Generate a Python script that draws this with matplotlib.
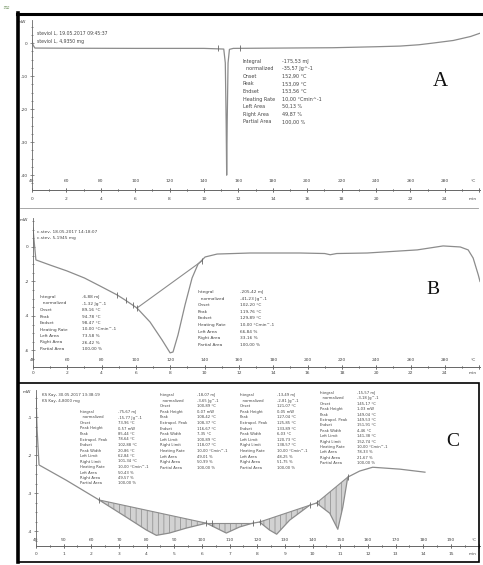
import numpy as np
import matplotlib
matplotlib.use("Agg")
import matplotlib.pyplot as plt
from matplotlib.lines import Line2D
from matplotlib.patches import Rectangle
from matplotlib.ticker import MultipleLocator, FuncFormatter

W, H = 483, 565
TXT = "#444444"
AX = "#666666"
CURVE = "#8c8c8c"

# ---- panel A: sharp melting peak ----
a_temp = [40, 40.6, 41.7, 60, 100, 140, 151.5, 152.4, 152.9, 153.2, 153.5, 154.0, 154.8,
          157, 200, 215, 240, 254, 265, 273, 285, 295, 300.5]
a_flow = [0.9, -0.6, -1.5, -1.55, -1.6, -1.6, -1.8, -6, -24, -40, -24, -6, -1.9,
          -1.6, -1.45, -1.4, -1.1, -0.9, -0.5, 0.0, 0.8, 2.0, 3.0]
a_mark_temp = [148.1, 160.9]
a_mark_flow = [-1.6, -1.5]
a_header = ["steviol L, 19.05.2017 09:45:37", "steviol L, 4,9350 mg"]
a_keys = ["Integral", "  normalized", "Onset", "Peak", "Endset", "Heating Rate",
          "Left Area", "Right Area", "Partial Area"]
a_vals = ["-175,53 mJ", "-35,57 Jg^-1", "152,90 °C", "153,09 °C", "153,56 °C",
          "10,00 °Cmin^-1", "50,13 %", "49,87 %", "100,00 %"]

# ---- panel B: broad dehydration endotherm ----
b_temp = [40, 40.6, 41.7, 50, 59.8, 70, 79, 89, 93.6, 100.6, 108.2, 115.2, 119.9, 121.6,
          124.5, 128.6, 132.7, 136.2, 140.3, 147.3, 166.5, 195.7, 210, 213.2, 217, 234.7,
          263.9, 279, 289, 293.6, 296.5, 299.5, 300.5]
b_flow = [1.1, 0.4, -0.75, -1.05, -1.39, -1.8, -2.26, -2.78, -3.07, -3.54, -4.35, -5.39,
          -6.14, -6.09, -5.1, -3.36, -1.80, -0.99, -0.58, -0.41, -0.35, -0.35, -0.38,
          -0.45, -0.38, -0.35, -0.17, 0.06, 0.0, -0.17, -0.64, -1.62, -2.0]
b_base_temp = [100.6, 138.6]
b_base_flow = [-3.54, -0.8]
b_mark_temp = [89, 94.2, 98.3, 100.6, 138.6]
b_mark_flow = [-2.78, -3.1, -3.35, -3.54, -0.8]
b_header = ["c.stev, 18.05.2017 14:18:07", "c.stev, 5,1945 mg"]
b_keys1 = a_keys
b_vals1 = ["-6,88 mJ", "-1,32 Jg^-1", "89,16 °C", "94,78 °C", "98,47 °C",
           "10,00 °Cmin^-1", "73,58 %", "26,42 %", "100,00 %"]
b_keys2 = ["Integral", "  normalized", "Onset", "Peak", "Endset", "Heating Rate",
           "Left Area", "Right Area", "Partial Area"]
b_vals2 = ["-205,42 mJ", "-41,23 Jg^-1", "102,20 °C", "119,76 °C", "129,89 °C",
           "10,00 °Cmin^-1", "66,84 %", "33,16 %", "100,00 %"]

# ---- panel C: four small endotherms ----
c_temp = [40, 40.4, 41.1, 50.9, 62.8, 72.6, 79.9, 83.5, 88.2, 94.3, 101.6, 105.2, 108.8,
          113.6, 118.3, 120.8, 124.4, 127.0, 131.7, 138.9, 141.4, 146.2, 149.1, 150.9,
          152.7, 157.0, 161.7, 171.5, 180.6]
c_flow = [-0.47, -1.34, -2.26, -2.66, -3.18, -3.63, -3.97, -4.11, -4.05, -3.92, -3.79,
          -3.92, -4.05, -3.89, -3.79, -3.76, -3.97, -4.08, -3.71, -3.32, -3.26, -3.53,
          -3.95, -3.37, -2.58, -2.42, -2.32, -2.37, -2.45]
c_limits = [(62.8, 101.6), (101.6, 118.3), (120.8, 138.9), (141.4, 152.7)]
c_mark_temp = [62.8, 101.6, 103.8, 118.3, 120.8, 138.9, 141.4, 152.7]
c_mark_flow = [-3.18, -3.79, -3.79, -3.79, -3.76, -3.32, -3.26, -2.58]
c_header = ["KS Kay, 30.05.2017 13:38:19", "KS Kay, 4,8000 mg"]
c_keys = ["Integral", "  normalized", "Onset", "Peak Height", "Peak", "Extrapol. Peak",
          "Endset", "Peak Width", "Left Limit", "Right Limit", "Heating Rate",
          "Left Area", "Right Area", "Partial Area"]
c_vals1 = ["-75,67 mJ", "-15,77 Jg^-1", "73,96 °C", "0,57 mW", "85,44 °C", "78,64 °C",
           "102,88 °C", "20,86 °C", "62,84 °C", "101,34 °C", "10,00 °Cmin^-1",
           "50,43 %", "49,57 %", "100,00 %"]
c_vals2 = ["-18,07 mJ", "-3,65 Jg^-1", "100,89 °C", "0,07 mW", "108,42 °C", "108,37 °C",
           "116,67 °C", "7,35 °C", "100,89 °C", "118,07 °C", "10,00 °Cmin^-1",
           "49,01 %", "50,99 %", "100,00 %"]
c_vals3 = ["-13,49 mJ", "-2,81 Jg^-1", "121,07 °C", "0,05 mW", "127,04 °C", "125,85 °C",
           "133,89 °C", "6,03 °C", "120,73 °C", "138,57 °C", "10,00 °Cmin^-1",
           "48,25 %", "51,75 %", "100,00 %"]
c_vals4 = ["-15,57 mJ", "-3,18 Jg^-1", "145,17 °C", "1,03 mW", "149,04 °C", "149,53 °C",
           "151,91 °C", "4,46 °C", "141,38 °C", "152,74 °C", "10,00 °Cmin^-1",
           "78,33 %", "21,67 %", "100,00 %"]

plt.rcParams["hatch.linewidth"] = 0.5
fig = plt.figure(figsize=(W / 100, H / 100), dpi=100)


def rect(x0, y0, x1, y1):
    return [x0 / W, 1 - y1 / H, (x1 - x0) / W, (y1 - y0) / H]


def put(x, y, s, size=3.3, **kw):
    kw.setdefault("ha", "left")
    fig.text(x / W, 1 - y / H, s, fontsize=size, color=TXT, va="center", **kw)


def block(x_key, x_val, y0, dy, keys, vals, size=3.0):
    for i, (k, v) in enumerate(zip(keys, vals)):
        put(x_key, y0 + i * dy, k, size)
        put(x_val, y0 + i * dy, v, size)


def dsc_axes(box, xlim, ylim, tstep, tminor, mstep, mminor, yticks, ylabels, yminor,
             tpad, mpad):
    ax = fig.add_axes(rect(*box))
    ax.set_xlim(xlim)
    ax.set_ylim(ylim)
    ax.patch.set_alpha(0)
    for s in ("top", "right"):
        ax.spines[s].set_visible(False)
    for s in ("left", "bottom"):
        ax.spines[s].set_color(AX)
        ax.spines[s].set_linewidth(0.6)
    ax.xaxis.set_major_locator(MultipleLocator(tstep))
    ax.xaxis.set_minor_locator(MultipleLocator(tminor))
    # the last tick carries the unit instead of a number (added as text below)
    ax.xaxis.set_major_formatter(FuncFormatter(
        lambda v, p: "" if (v > xlim[1] - tstep or v < xlim[0] - 0.01) else f"{v:.0f}"))
    ax.tick_params(axis="x", which="both", direction="inout", color=AX, width=0.5,
                   labelsize=3.2, labelcolor=TXT, pad=tpad)
    ax.tick_params(axis="x", which="major", length=3)
    ax.tick_params(axis="x", which="minor", length=1.6)

    ax.set_yticks(yticks, ylabels)
    ax.yaxis.set_minor_locator(MultipleLocator(yminor))
    ax.tick_params(axis="y", which="both", direction="inout", color=AX, width=0.5,
                   labelsize=3.2, labelcolor=TXT, pad=1.5)
    ax.tick_params(axis="y", which="major", length=3)
    ax.tick_params(axis="y", which="minor", length=1.4)
    ax.text(-0.012, 1.0, "mW", transform=ax.transAxes, fontsize=3.2, color=TXT,
            ha="right", va="top")

    tmax = (xlim[1] - 40) / 10
    sec = ax.secondary_xaxis("bottom", functions=(lambda T: (T - 40) / 10,
                                                   lambda t: t * 10 + 40))
    sec.spines["bottom"].set_color(AX)
    sec.spines["bottom"].set_linewidth(0.6)
    sec.xaxis.set_major_locator(MultipleLocator(mstep))
    sec.xaxis.set_minor_locator(MultipleLocator(mminor))
    sec.xaxis.set_major_formatter(FuncFormatter(
        lambda v, p: "" if (v > tmax - mstep or v < -0.01) else f"{v:.0f}"))
    sec.tick_params(axis="x", which="both", direction="inout", color=AX, width=0.5,
                    labelsize=3.2, labelcolor=TXT, pad=mpad)
    sec.tick_params(axis="x", which="major", length=3)
    sec.tick_params(axis="x", which="minor", length=1.6)
    return ax


# ---- panel A ----
axA = dsc_axes((32, 20, 480, 190), (40, 300.5), (-44.5, 7.0), 20, 10, 2, 1,
               [0, -10, -20, -30, -40], ["0", "-10", "-20", "-30", "-40"], 2.5,
               -9.6, 3.4)
axA.plot(a_temp, a_flow, color=CURVE, lw=0.9)
axA.plot(a_mark_temp, a_mark_flow, ls="none", marker="|", ms=4, mew=0.6, color="#666")
put(37, 33, a_header[0], 3.3)
put(37, 41, a_header[1], 3.3)
block(243, 282, 61, 7.6, a_keys, a_vals, 3.5)
put(473, 181, "°C", 3.2, ha="center")
put(473, 199, "min", 3.2, ha="center")
fig.text(440 / W, 1 - 81 / H, "A", fontsize=15, family="Liberation Serif",
         color="#111", ha="center", va="center")

# ---- panel B ----
axB = dsc_axes((33, 218, 480, 367), (40, 300.5), (-6.96, 1.68), 20, 10, 2, 1,
               [0, -2, -4, -6], ["0", "-2", "-4", "-6"], 0.5, -8.1, 1.2)
axB.plot(b_temp, b_flow, color=CURVE, lw=0.9)
axB.plot(b_base_temp, b_base_flow, color=CURVE, lw=0.8)
axB.plot(b_mark_temp, b_mark_flow, ls="none", marker="|", ms=4, mew=0.6, color="#666")
put(37, 232, b_header[0], 3.1)
put(37, 238, b_header[1], 3.1)
block(40, 82, 297, 6.5, b_keys1, b_vals1, 3.1)
block(198, 240, 292, 6.6, b_keys2, b_vals2, 3.1)
put(473, 360, "°C", 3.2, ha="center")
put(473, 373, "min", 3.2, ha="center")
fig.text(433 / W, 1 - 290 / H, "B", fontsize=14, family="Liberation Serif",
         color="#111", ha="center", va="center")

# ---- panel C ----
axC = dsc_axes((36, 390, 480, 546), (40, 200.5), (-4.39, -0.29), 10, 5, 1, 0.5,
               [-1, -2, -3, -4], ["-1", "-2", "-3", "-4"], 0.25, -7.3, 2.7)
ct = np.array(c_temp)
cf = np.array(c_flow)
for lo, hi in c_limits:
    m = (ct >= lo) & (ct <= hi)
    axC.fill(ct[m], cf[m], facecolor="#d2d2d2", edgecolor="#8a8a8a", hatch="|||", lw=0)
    axC.plot(ct[m][[0, -1]], cf[m][[0, -1]], color=CURVE, lw=0.8)
axC.plot(ct, cf, color=CURVE, lw=0.9)
axC.plot(c_mark_temp, c_mark_flow, ls="none", marker="|", ms=4, mew=0.6, color="#666")
put(42, 395, c_header[0], 2.9)
put(42, 401, c_header[1], 2.9)
block(80, 118, 412, 5.5, c_keys, c_vals1, 2.7)
block(160, 197, 395, 5.6, c_keys, c_vals2, 2.7)
block(240, 277, 395, 5.6, c_keys, c_vals3, 2.7)
block(320, 357, 393, 5.4, c_keys, c_vals4, 2.7)
put(474, 540, "°C", 3.0, ha="center")
put(473, 554, "min", 3.0, ha="center")
fig.text(453 / W, 1 - 442 / H, "C", fontsize=14, family="Liberation Serif",
         color="#111", ha="center", va="center")

# ---- frame lines of the scanned sheet ----
def fig_line(x0, y0, x1, y1, **kw):
    fig.add_artist(Line2D([x0 / W, x1 / W], [1 - y0 / H, 1 - y1 / H], **kw))

fig_line(18, 13, 18, 562, color="black", lw=2.6)
fig_line(17, 14, 483, 14, color="black", lw=2.2)
fig_line(20, 208, 478, 208, color="#999999", lw=0.6)
fig.add_artist(Rectangle((18 / W, 1 - 562 / H), (479 - 18) / W, (562 - 383) / H,
                         fill=False, ec="black", lw=1.2))
fig.text(6 / W, 1 - 7 / H, "≈", fontsize=6, color="#7a9a6a", ha="center", va="center")

fig.savefig("out.png", dpi=100)
